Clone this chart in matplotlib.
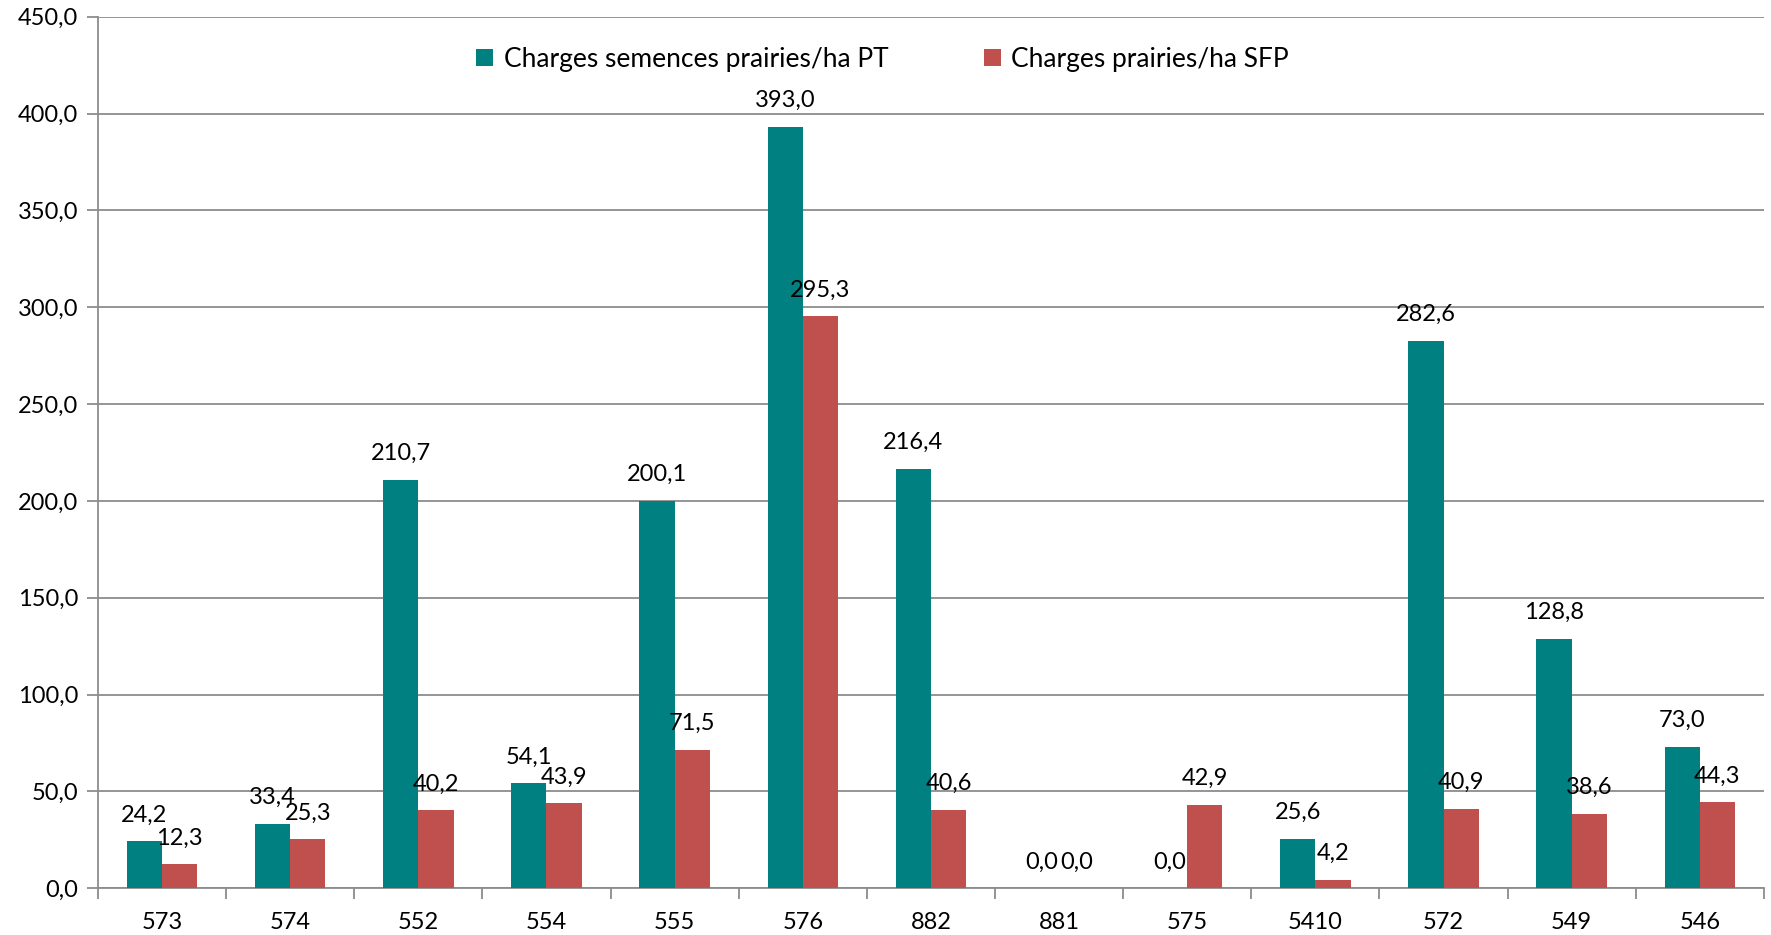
import numpy as np
import matplotlib
matplotlib.use("Agg")
import matplotlib.pyplot as plt
from matplotlib.ticker import FuncFormatter

categories = ["573", "574", "552", "554", "555", "576", "882", "881", "575", "5410", "572", "549", "546"]
semences_pt = [24.2, 33.4, 210.7, 54.1, 200.1, 393.0, 216.4, 0.0, 0.0, 25.6, 282.6, 128.8, 73.0]
prairies_sfp = [12.3, 25.3, 40.2, 43.9, 71.5, 295.3, 40.6, 0.0, 42.9, 4.2, 40.9, 38.6, 44.3]
series_names = ["Charges semences prairies/ha PT", "Charges prairies/ha SFP"]

plt.rcParams['font.family'] = ['Lato', 'DejaVu Sans']
grid_col = "#8c8c8c"
teal = "#008080"
red = "#C0504D"

def fr(v, pos=None):
    return f"{v:.1f}".replace(".", ",")

fig = plt.figure(figsize=(17.71, 9.35), dpi=100)
ax = fig.add_axes([0.0553, 0.050, 0.9407, 0.932])

x = np.arange(len(categories))
w = 0.275
b1 = ax.bar(x - w / 2, semences_pt, w, color=teal, label=series_names[0], zorder=3)
b2 = ax.bar(x + w / 2, prairies_sfp, w, color=red, label=series_names[1], zorder=3)

# data labels centred above each bar, like the Excel original
for bars, vals in [(b1, semences_pt), (b2, prairies_sfp)]:
    for b, v in zip(bars, vals):
        ax.annotate(fr(v), (b.get_x() + b.get_width() / 2, v), xytext=(0, 19),
                    textcoords="offset points", ha="center", va="center", fontsize=17, zorder=4)

ax.set_xlim(-0.5, len(categories) - 0.5)
ax.set_ylim(0, 450)
ax.set_yticks(np.arange(0, 451, 50))
ax.yaxis.set_major_formatter(FuncFormatter(fr))
ax.grid(axis="y", color=grid_col, linewidth=1.3, zorder=0)

ax.set_xticks(x)
ax.set_xticklabels(categories)
ax.set_xticks(np.arange(-0.5, len(categories)), minor=True)
ax.tick_params(axis="x", which="major", length=0, pad=17, labelsize=17)
ax.tick_params(axis="x", which="minor", length=8, color=grid_col, width=1.3)
ax.tick_params(axis="y", length=8, color=grid_col, width=1.3, pad=6, labelsize=17)

for s in ["top", "right"]:
    ax.spines[s].set_visible(False)
for s in ["left", "bottom"]:
    ax.spines[s].set_color(grid_col)
    ax.spines[s].set_linewidth(1.3)

ax.legend(loc="upper center", bbox_to_anchor=(0.471, 0.993), ncol=2, frameon=False,
          fontsize=19, handlelength=0.65, handleheight=0.65, handletextpad=0.4,
          columnspacing=3.6)

fig.savefig("out.png", dpi=100)
